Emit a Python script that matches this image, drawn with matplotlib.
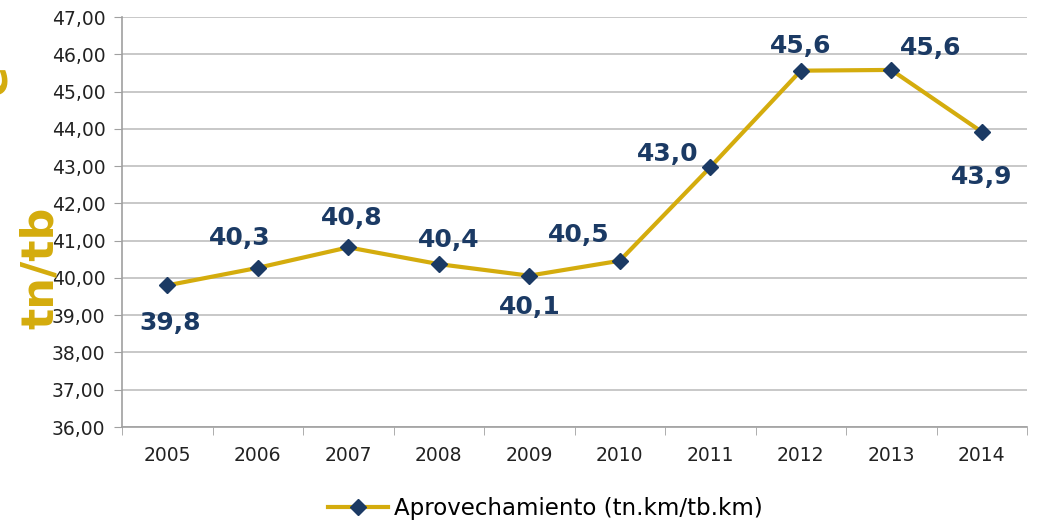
import matplotlib.pyplot as plt
import numpy as np

years = ['2005', '2006', '2007', '2008', '2009', '2010', '2011', '2012', '2013', '2014']
values = [39.80, 40.27, 40.82, 40.37, 40.06, 40.46, 42.97, 45.56, 45.58, 43.92]
labels = ['39,8', '40,3', '40,8', '40,4', '40,1', '40,5', '43,0', '45,6', '45,6', '43,9']
# label offsets in pixels from each point
offsets = [(3, -38), (-18, 30), (4, 29), (10, 24), (1, -31),
           (-41, 26), (-43, 13), (0, 25), (39, 22), (0, -45)]

gold = '#D4AC0D'
navy = '#1B3A64'
grid = '#BFBFBF'

fig = plt.figure(figsize=(10.4, 5.26), dpi=100)
ax = fig.add_axes([122 / 1040, 1 - 427 / 526, (1027 - 122) / 1040, (427 - 17) / 526])

x = np.arange(len(years))
ax.plot(x, values, color=gold, lw=3, marker='D', ms=8, mfc=navy, mec=navy,
        label='Aprovechamiento (tn.km/tb.km)', zorder=3)

for xi, v, lab, off in zip(x, values, labels, offsets):
    ax.annotate(lab, (xi, v), xytext=off, textcoords='offset pixels',
                ha='center', va='center', fontsize=18, fontweight='bold', color=navy)

ax.set_xlim(-0.5, 9.5)
ax.set_ylim(36, 47)
ax.set_yticks(np.arange(36, 48, 1))
ax.set_yticklabels(['%d,00' % t for t in range(36, 48)], fontsize=13.5, color='#222222')
ax.set_xticks(x)
ax.set_xticklabels(years, fontsize=13.5, color='#222222')
ax.set_xticks(np.arange(-0.5, 10, 1), minor=True)
ax.tick_params(axis='x', which='major', length=0, pad=14)
ax.tick_params(axis='x', which='minor', length=6, color='#A0A0A0', direction='out')
ax.tick_params(axis='y', length=6, color='#A0A0A0', direction='out', pad=6)

ax.grid(axis='y', color=grid, lw=1.2)
ax.set_axisbelow(True)
for s in ['top', 'right']:
    ax.spines[s].set_visible(False)
for s in ['left', 'bottom']:
    ax.spines[s].set_color('#A0A0A0')
    ax.spines[s].set_linewidth(1.2)

fig.text(40 / 1040, 1 - 268 / 526, 'tn/tb', rotation=90, ha='center', va='center',
         fontsize=32, fontweight='bold', color=gold)
fig.text(-6 / 1040, 1 - 80 / 526, 'e', rotation=90, ha='center', va='center',
         fontsize=32, fontweight='bold', color=gold)

ax.legend(loc='center', bbox_to_anchor=(0.468, -0.2), frameon=False, fontsize=16.5,
          handlelength=2.6, handletextpad=0.3)

fig.savefig('out.png', dpi=100)
